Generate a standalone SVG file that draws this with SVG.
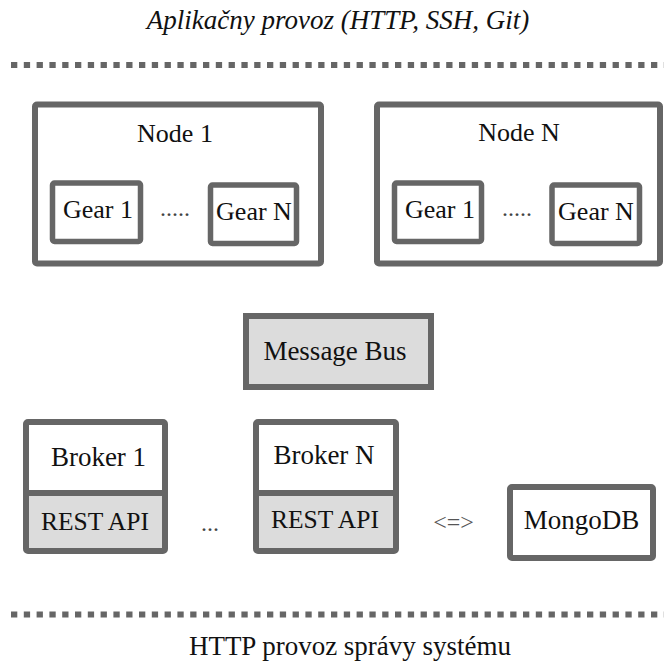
<svg xmlns="http://www.w3.org/2000/svg" width="664" height="661" viewBox="0 0 664 661">
<style>
.t{font-family:'Liberation Serif','Times New Roman',serif;fill:#111;text-anchor:middle;font-size:26px}
.f27{font-size:27px}
.f25{font-size:25.5px}
.dots{font-size:24px;fill:#444}
.box{fill:#fff;stroke:#666;stroke-width:6}
.gear{fill:#fff;stroke:#666;stroke-width:5.5}
.sep{stroke:#666;stroke-width:6;stroke-dasharray:6.3 6.5;fill:none}
.frame{fill:none;stroke:#666;stroke-width:6}
.api{fill:#dcdcdc}
</style>
<text class="t f27" x="338" y="29" font-style="italic">Aplikačny provoz (HTTP, SSH, Git)</text>
<g id="separators">
<line class="sep" x1="11" y1="65" x2="664" y2="65"/>
<line class="sep" x1="11" y1="614.5" x2="664" y2="614.5"/>
</g>
<g id="node1">
<rect class="box" x="35" y="104.5" width="286" height="159" rx="2"/>
<text class="t" x="175" y="142">Node 1</text>
<g id="node1-gear1">
<rect class="gear" x="52.5" y="183" width="88" height="58.5" rx="2"/>
<text class="t" x="98" y="218">Gear 1</text>
</g>
<text class="t dots" x="175" y="216">.....</text>
<g id="node1-gearN">
<rect class="gear" x="210.5" y="185" width="86" height="58.5" rx="2"/>
<text class="t" x="254" y="220">Gear N</text>
</g>
</g>
<g id="nodeN">
<rect class="box" x="377" y="104.5" width="283" height="159" rx="2"/>
<text class="t" x="519" y="141">Node N</text>
<g id="nodeN-gear1">
<rect class="gear" x="394.5" y="183" width="87" height="58.5" rx="2"/>
<text class="t" x="440" y="218">Gear 1</text>
</g>
<text class="t dots" x="517" y="216">.....</text>
<g id="nodeN-gearN">
<rect class="gear" x="552" y="185" width="87.5" height="58.5" rx="2"/>
<text class="t" x="596" y="220">Gear N</text>
</g>
</g>
<g id="message-bus">
<rect class="box" x="246" y="316" width="185" height="71" style="fill:#dcdcdc"/>
<text class="t f27" x="335" y="360">Message Bus</text>
</g>
<g id="broker1">
<rect class="api" x="26" y="493" width="139" height="58"/>
<rect class="frame" x="26" y="422" width="139" height="129" rx="2"/>
<line class="frame" x1="26" y1="493" x2="165" y2="493"/>
<text class="t f27" x="98.5" y="466">Broker 1</text>
<text class="t f25" x="95" y="530">REST API</text>
</g>
<text class="t dots" x="210" y="531">...</text>
<g id="brokerN">
<rect class="api" x="256" y="493" width="140" height="58"/>
<rect class="frame" x="256" y="422" width="140" height="129" rx="2"/>
<line class="frame" x1="256" y1="493" x2="396" y2="493"/>
<text class="t f27" x="324" y="464">Broker N</text>
<text class="t f25" x="325" y="528">REST API</text>
</g>
<g id="connectors">
<text class="t" x="453.5" y="530" style="font-size:24px;fill:#555">&lt;=&gt;</text>
</g>
<g id="mongodb">
<rect class="box" x="510" y="487" width="143" height="71" rx="2"/>
<text class="t f27" x="581.5" y="529">MongoDB</text>
</g>
<text class="t f27" x="350" y="655">HTTP provoz správy systému</text>
</svg>
